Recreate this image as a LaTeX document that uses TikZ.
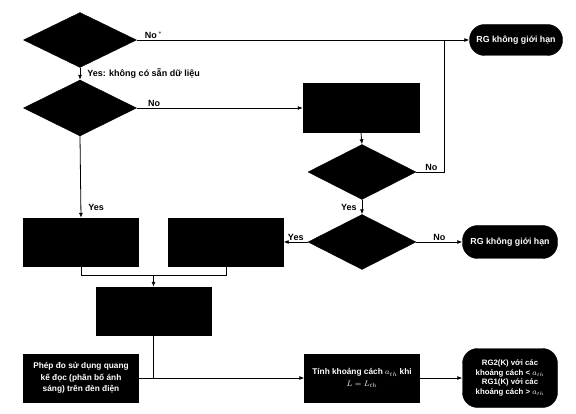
\documentclass[tikz,border=0pt]{standalone}
\usepackage{fontspec}
\setmainfont{Liberation Sans}
\usetikzlibrary{shapes.geometric,arrows.meta}
\begin{document}
\begin{tikzpicture}[x=1pt,y=-1pt,
  conn/.style={line width=0.8pt,draw=black},
  arr/.style={conn,-{Latex[length=5pt,width=4pt]}},
  dec/.style={shape=diamond,fill=black,draw=black,inner sep=0pt,minimum width=113pt,minimum height=55pt},
  blk/.style={shape=rectangle,fill=black,draw=black,inner sep=1pt,minimum width=115pt,minimum height=48pt,text=white,font=\bfseries\fontsize{8.3}{11.5}\selectfont,align=center},
  term/.style={shape=rectangle,rounded corners=15pt,fill=black,draw=black,inner sep=1pt,minimum width=94pt,text=white,font=\bfseries\fontsize{8.8}{10.5}\selectfont,align=center},
  lbl/.style={font=\bfseries\fontsize{9}{10}\selectfont,inner sep=1pt}]
\useasboundingbox (0,0) rectangle (576,414);
% decisions
\node[dec] (d1) at (80,40) {};
\node[dec,minimum height=56pt] (d2) at (80,108) {};
\node[dec,minimum width=108pt] (d3) at (362,172) {};
\node[dec,minimum width=108pt] (d4) at (362,242) {};
% boxes
\node[blk,minimum width=116pt,minimum height=49pt] (bA) at (361,108) {};
\node[blk] (bB) at (81,242) {};
\node[blk] (bC) at (226,242) {};
\node[blk] (bD) at (153.5,311) {};
\node[blk] (bE) at (81,378) {Phép đo sử dụng quang\\kế đọc (phân bố ánh\\sáng) trên đèn điện};
\node[blk] (bF) at (362,378) {Tính khoảng cách $a_{th}$ khi\\$L = L_{th}$};
% terminals
\node[term,minimum width=93pt,minimum height=31pt] (r1) at (516,40) {RG không giới hạn};
\node[term,minimum width=95pt,minimum height=33pt] (r2) at (510,242) {RG không giới hạn};
\node[term,minimum width=95pt,minimum height=59pt,font=\bfseries\fontsize{7.8}{9.6}\selectfont] (r3) at (510,378) {RG2(K) với các\\khoảng cách < $a_{th}$\\RG1(K) với các\\khoảng cách > $a_{th}$};
% junctions
\coordinate (j1) at (444,40);
\coordinate (m1) at (153.5,275);
\coordinate (m2) at (bD.south |- bE.east);
% connectors
\draw[arr] (d1.east) -- node[lbl,above,pos=0.02,anchor=south west] {No$^{\,*}$} (r1.west);
\draw[arr] (d1.south) -- node[lbl,right,anchor=west,xshift=6pt] {Yes: không có sẵn dữ liệu} (d2.north);
\draw[arr] (d2.east) -- node[lbl,above,pos=0.06,anchor=south west] {No} (bA.west);
\draw[arr] (d2.south) -- node[lbl,pos=0.87,anchor=west,xshift=6pt] {Yes} (bB.north);
\draw[arr] (bA.south) -- (d3.north);
\draw[conn] (d3.east) -- node[lbl,above,pos=0.55] {No} (d3.east -| j1) -- (j1);
\draw[arr] (d3.south) -- node[lbl,anchor=east,xshift=-4pt] {Yes} (d4.north);
\draw[arr] (d4.east) -- node[lbl,above,pos=0.5] {No} (r2.west);
\draw[arr] (d4.west) -- node[lbl,above,pos=0.5] {Yes} (bC.east);
\draw[conn] (bB.south) |- (m1);
\draw[conn] (bC.south) |- (m1);
\draw[arr] (m1) -- (bD.north);
\draw[conn] (bD.south) -- (m2);
\draw[conn] (bE.east) -- (m2);
\draw[arr] (m2) -- (bF.west);
\draw[arr] (bF.east) -- (r3.west);
\end{tikzpicture}
\end{document}
